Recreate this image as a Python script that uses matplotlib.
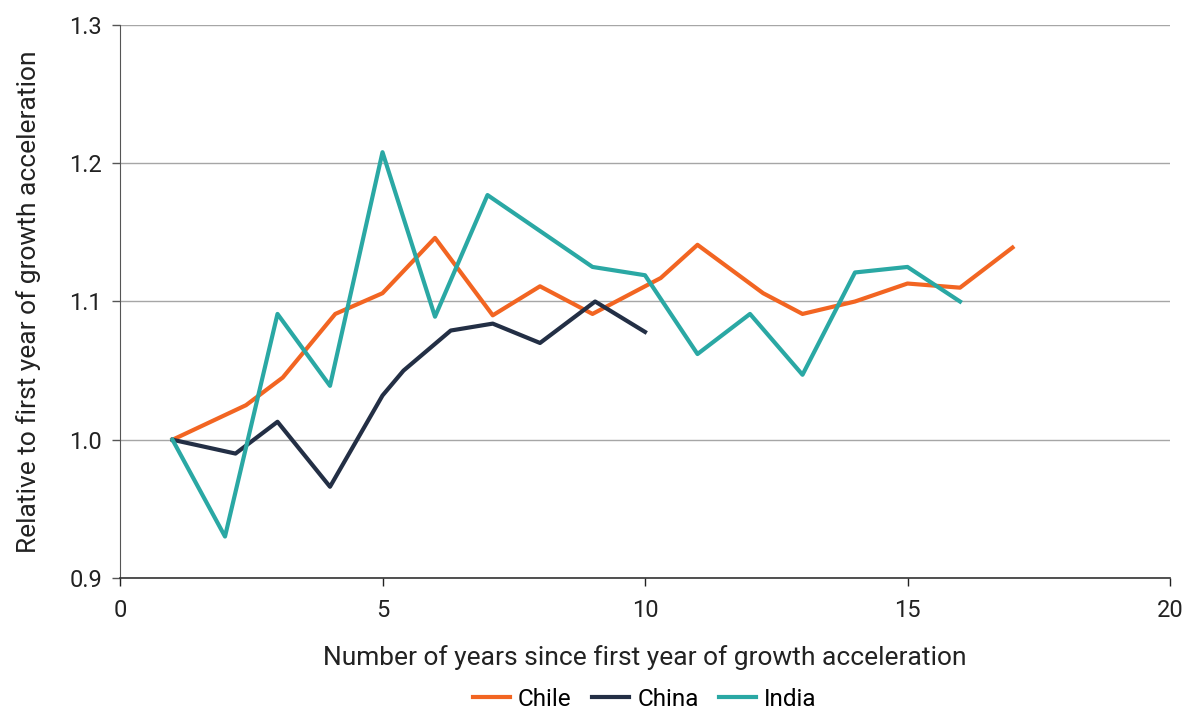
import matplotlib.pyplot as plt

plt.rcParams['font.family'] = ['Roboto', 'DejaVu Sans']

# Данные
chile_x = [1, 2.4, 3.1, 4.1, 5, 6, 7.1, 8, 9, 10.3, 11, 12.25, 13, 14, 15, 16, 17]
chile_y = [1.0, 1.025, 1.045, 1.091, 1.106, 1.146, 1.090, 1.111, 1.091, 1.117, 1.141,
           1.106, 1.091, 1.100, 1.113, 1.110, 1.139]

china_x = [1, 2.2, 3, 4, 5, 5.4, 6.3, 7.1, 8, 9.05, 10]
china_y = [1.0, 0.990, 1.013, 0.966, 1.032, 1.050, 1.079, 1.084, 1.070, 1.100, 1.078]

india_x = [1, 2, 3, 4, 5, 6, 7, 8, 9, 10, 11, 12, 13, 14, 15, 16]
india_y = [1.0, 0.930, 1.091, 1.039, 1.208, 1.089, 1.177, 1.151, 1.125, 1.119, 1.062,
           1.091, 1.047, 1.121, 1.125, 1.100]

fig = plt.figure(figsize=(11.86, 7.10), dpi=100)
ax = fig.add_axes([120 / 1186, 1 - 578 / 710, 1050 / 1186, 553 / 710])

ax.plot(chile_x, chile_y, color='#f26522', lw=3.0, label='Chile', zorder=3)
ax.plot(china_x, china_y, color='#232f45', lw=3.0, label='China', zorder=3)
ax.plot(india_x, india_y, color='#2aa8a4', lw=3.0, label='India', zorder=3)

ax.set_xlim(0, 20)
ax.set_ylim(0.9, 1.3)
ax.set_xticks([0, 5, 10, 15, 20])
ax.set_yticks([0.9, 1.0, 1.1, 1.2, 1.3])
ax.set_yticklabels(['0.9', '1.0', '1.1', '1.2', '1.3'])
ax.yaxis.grid(True, color='#a6a6a6', lw=1)
ax.set_axisbelow(True)
for s in ['top', 'right']:
    ax.spines[s].set_visible(False)
ax.spines['left'].set_color('#555555')
ax.spines['bottom'].set_color('#333333')
ax.spines['bottom'].set_linewidth(1.2)
ax.tick_params(axis='both', labelsize=17, colors='#222222', length=6, width=1)
ax.tick_params(axis='y', color='#555555', pad=7)
ax.tick_params(axis='x', pad=9)

ax.set_xlabel('Number of years since first year of growth acceleration', fontsize=19,
              color='#222222', labelpad=17)
ax.set_ylabel('Relative to first year of growth acceleration', fontsize=19,
              color='#222222', labelpad=20)

fig.legend(loc='center', bbox_to_anchor=(645 / 1186, 1 - 699 / 710), ncol=3, frameon=False,
           fontsize=17.5, handlelength=1.5, handletextpad=0.35, columnspacing=0.85,
           borderpad=0.1)

fig.savefig('out.png', dpi=100)
